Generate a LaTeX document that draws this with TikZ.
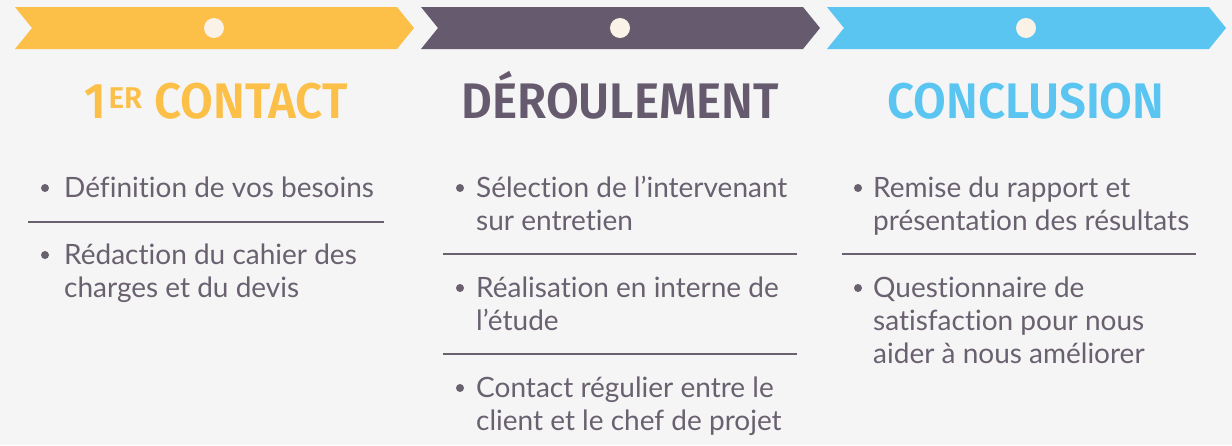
\documentclass[tikz,border=0pt]{standalone}
\usepackage{fontspec}
\setmainfont{Lato}[Ligatures=NoCommon]
\newfontfamily\headfont{Fira Sans SemiBold}
\definecolor{bg}{HTML}{F5F5F5}
\definecolor{cyel}{HTML}{FCC048}
\definecolor{cpur}{HTML}{665B6E}
\definecolor{cblu}{HTML}{5BC5F2}
\definecolor{ctxt}{HTML}{6A6170}
\definecolor{cdot}{HTML}{FAF2E6}
\newcommand{\twol}[2]{\vtop{\hbox{#1}\hbox{#2}}}
\newcommand{\threel}[3]{\vtop{\hbox{#1}\hbox{#2}\hbox{#3}}}
\newcommand{\hsq}[1]{\scalebox{0.95}[1]{#1}}
\tikzset{
  dotc/.style={circle,fill=cdot,minimum size=20pt,inner sep=0pt},
  head/.style={font=\headfont\fontsize{50}{50}\selectfont,anchor=base,inner sep=0pt},
  item/.style={font=\fontsize{28}{33}\selectfont,text=ctxt,anchor=base west,inner sep=0pt},
  bul/.style={circle,fill=ctxt,minimum size=8pt,inner sep=0pt},
  sep/.style={draw=ctxt,line width=1.3pt}
}
\begin{document}
\begin{tikzpicture}[x=1pt,y=-1pt]
\fill[bg] (0,0) rectangle (1232,445);
\useasboundingbox (0,0) rectangle (1232,445);
% bands
\fill[cyel] (15,7) -- (397,7) -- (414,28) -- (397,49) -- (15,49) -- (32,28) -- cycle;
\fill[cpur] (421,7) -- (803,7) -- (820,28) -- (803,49) -- (421,49) -- (438,28) -- cycle;
\fill[cblu] (827,7) -- (1209,7) -- (1226,28) -- (1209,49) -- (827,49) -- (844,28) -- cycle;
\node[dotc] (d1) at (214,28) {};
\node[dotc] (d2) at (620,28) {};
\node[dotc] (d3) at (1026,28) {};
% headings
\node[head,text=cyel] (h1) at (216,118) {\hsq{1\kern3pt\raisebox{10pt}{\scalebox{0.62}[0.6]{ER}}\kern1pt\ CONTACT}};
\node[head,text=cpur] (h2) at (620,118) {\hsq{DÉROULEMENT}};
\node[head,text=cblu] (h3) at (1026,118) {\hsq{CONCLUSION}};
% column 1
\node[bul] (b11) at (45,188) {};
\node[item] (t11) at (64,197) {Définition de vos besoins};
\draw[sep] (28,222) -- (384,222);
\node[bul] (b12) at (45,255) {};
\node[item] (t12) at (64,264) {\twol{Rédaction du cahier des}{charges et du devis}};
% column 2
\node[bul] (b21) at (460,188) {};
\node[item] (t21) at (476,197) {\twol{Sélection de l’intervenant}{sur entretien}};
\draw[sep] (443,254) -- (797,254);
\node[bul] (b22) at (460,288) {};
\node[item] (t22) at (476,297) {\twol{Réalisation en interne de}{l’étude}};
\draw[sep] (443,354) -- (797,354);
\node[bul] (b23) at (460,388) {};
\node[item] (t23) at (476,397) {\twol{Contact régulier entre le}{client et le chef de projet}};
% column 3
\node[bul] (b31) at (858,188) {};
\node[item] (t31) at (873,197) {\twol{Remise du rapport et}{présentation des résultats}};
\draw[sep] (842,254) -- (1196,254);
\node[bul] (b32) at (858,288) {};
\node[item] (t32) at (873,297) {\threel{Questionnaire de}{satisfaction pour nous}{aider à nous améliorer}};
\end{tikzpicture}
\end{document}
